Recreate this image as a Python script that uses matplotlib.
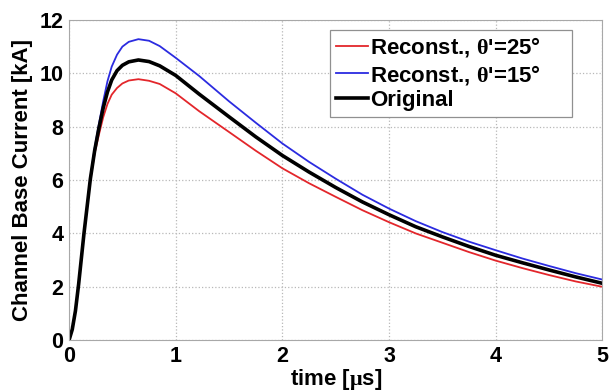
import matplotlib
matplotlib.use('Agg')
import matplotlib.pyplot as plt

# time axis [us] and currents [kA]
t = [0, 0.03, 0.06, 0.09, 0.14, 0.2, 0.24, 0.28, 0.32, 0.36, 0.40, 0.45,
     0.5, 0.56, 0.65, 0.75, 0.85, 1.0, 1.22, 1.5, 1.75, 2.0, 2.25, 2.5,
     2.75, 3.0, 3.25, 3.5, 3.75, 4.0, 4.25, 4.5, 4.75, 5.0]

i_rec25 = [0, 0.4, 1.1, 2.1, 4.0, 6.0, 7.0, 7.7, 8.35, 8.85, 9.2, 9.45,
           9.62, 9.73, 9.78, 9.72, 9.6, 9.25, 8.58, 7.8, 7.1, 6.44, 5.88, 5.37,
           4.87, 4.42, 4.0, 3.65, 3.3, 2.98, 2.7, 2.44, 2.2, 2.0]

i_rec15 = [0, 0.4, 1.1, 2.1, 4.0, 6.1, 7.2, 8.1, 8.95, 9.7, 10.25, 10.7,
           11.0, 11.18, 11.28, 11.22, 11.02, 10.58, 9.9, 8.95, 8.15, 7.37, 6.68, 6.05,
           5.45, 4.93, 4.46, 4.05, 3.69, 3.37, 3.06, 2.78, 2.51, 2.27]

i_orig = [0, 0.4, 1.1, 2.1, 4.0, 6.05, 7.1, 7.95, 8.7, 9.3, 9.75, 10.1,
          10.3, 10.43, 10.5, 10.44, 10.28, 9.92, 9.22, 8.37, 7.62, 6.92, 6.3, 5.72,
          5.18, 4.7, 4.25, 3.87, 3.51, 3.18, 2.9, 2.63, 2.37, 2.13]

labels = [r"Reconst., $\theta$'=25°", r"Reconst., $\theta$'=15°", "Original"]
xticks = [0, 1, 2, 3, 4, 5]
yticks = [0, 2, 4, 6, 8, 10, 12]

plt.rcParams['font.family'] = ['Liberation Sans', 'DejaVu Sans']
plt.rcParams['font.weight'] = 'bold'
plt.rcParams['mathtext.fontset'] = 'custom'
plt.rcParams['mathtext.it'] = 'Liberation Serif'
plt.rcParams['mathtext.rm'] = 'Liberation Serif'

fig = plt.figure(figsize=(6.11, 3.91), dpi=100)
ax = fig.add_axes([0.113, 0.130, 0.873, 0.819])

ax.plot(t, i_rec25, color='#e3262b', lw=1.3, label=labels[0])
ax.plot(t, i_rec15, color='#2b2be0', lw=1.3, label=labels[1])
ax.plot(t, i_orig, color='black', lw=2.6, label=labels[2])

ax.set_xlim(0, 5)
ax.set_ylim(0, 12)
ax.set_xticks(xticks)
ax.set_yticks(yticks)
ax.tick_params(labelsize=15.5, length=0, pad=4)
for lab in ax.get_xticklabels() + ax.get_yticklabels():
    lab.set_fontweight('bold')

ax.grid(True, color='#b8b8b8', linestyle=':', linewidth=0.9)
for sp in ax.spines.values():
    sp.set_color('#a8a8a8')
    sp.set_linewidth(0.8)

ax.set_xlabel(r"time [$\mu$s]", fontsize=16, fontweight='bold', labelpad=0)
ax.set_ylabel("Channel Base Current [kA]", fontsize=16, fontweight='bold', labelpad=5)

# matlab-style legend box: wider than its text, so expand into a fixed box
leg = ax.legend(loc='upper left', bbox_to_anchor=(0.49, 0.5, 0.452, 0.469), mode='expand',
                borderaxespad=0, fontsize=16, handlelength=1.45, handletextpad=0.1,
                labelspacing=0.15, borderpad=0.25, fancybox=False, framealpha=1)
leg.get_frame().set_edgecolor('#909090')
leg.get_frame().set_linewidth(0.9)
for txt in leg.get_texts():
    txt.set_fontweight('bold')

fig.savefig('out.png', dpi=100)
